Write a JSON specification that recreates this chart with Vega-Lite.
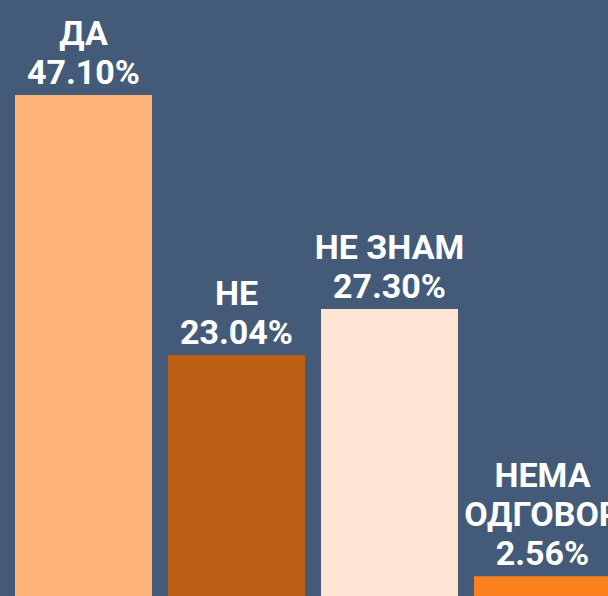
{
  "$schema": "https://vega.github.io/schema/vega-lite/v6.json",
  "width": 608,
  "height": 596,
  "autosize": {"type": "none"},
  "padding": 0,
  "background": "#435b79",
  "config": {"view": {"stroke": null}},
  "data": {"values": [
    {"cat": "ДА", "value": 47.10, "top": "", "name": "ДА", "pct": "47.10%"},
    {"cat": "НЕ", "value": 23.04, "top": "", "name": "НЕ", "pct": "23.04%"},
    {"cat": "НЕ ЗНАМ", "value": 27.30, "top": "", "name": "НЕ ЗНАМ", "pct": "27.30%"},
    {"cat": "НЕМА ОДГОВОР", "value": 2.56, "top": "НЕМА", "name": "ОДГОВОР", "pct": "2.56%"}
  ]},
  "encoding": {
    "x": {"field": "cat", "type": "nominal", "sort": null, "axis": null,
      "scale": {"range": [15, 611], "paddingInner": 0.1046, "paddingOuter": 0}},
    "y": {"field": "value", "type": "quantitative", "axis": null,
      "scale": {"domain": [0, 47.1], "range": [604, 95], "nice": false, "zero": false}}
  },
  "layer": [
    {
      "mark": {"type": "bar"},
      "encoding": {
        "color": {"field": "cat", "type": "nominal", "sort": null, "legend": null,
          "scale": {"domain": ["ДА", "НЕ", "НЕ ЗНАМ", "НЕМА ОДГОВОР"],
            "range": ["#feb476", "#bc5e14", "#fee5d3", "#fd801e"]}}
      }
    },
    {
      "mark": {"type": "text", "baseline": "alphabetic", "align": "center",
        "dy": -11, "font": "Roboto", "fontWeight": "bold", "fontSize": 34, "color": "white"},
      "encoding": {"text": {"field": "pct"}}
    },
    {
      "mark": {"type": "text", "baseline": "alphabetic", "align": "center",
        "dy": -50, "font": "'Liberation Sans Narrow', Roboto", "fontWeight": "bold", "fontSize": 34, "color": "white"},
      "encoding": {"text": {"field": "name"}}
    },
    {
      "mark": {"type": "text", "baseline": "alphabetic", "align": "center",
        "dy": -89, "font": "'Liberation Sans Narrow', Roboto", "fontWeight": "bold", "fontSize": 34, "color": "white"},
      "encoding": {"text": {"field": "top"}}
    }
  ]
}
